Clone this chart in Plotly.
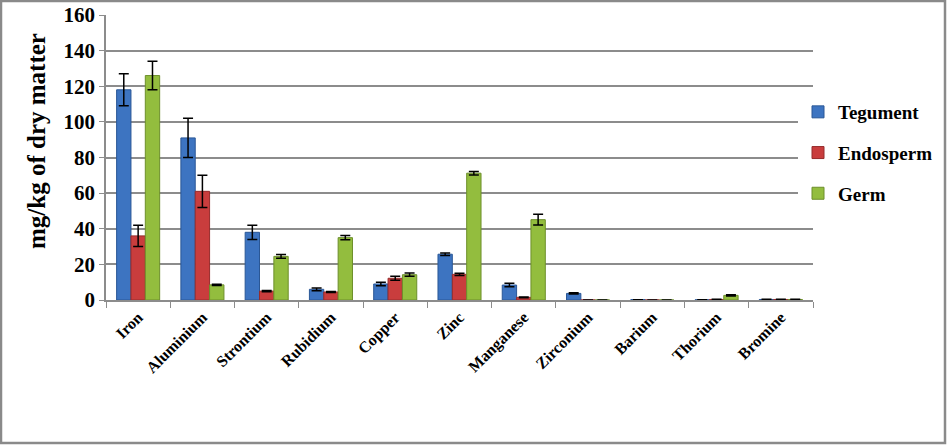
import plotly.graph_objects as go

elements = ["Iron", "Aluminium", "Strontium", "Rubidium", "Copper", "Zinc",
            "Manganese", "Zirconium", "Barium", "Thorium", "Bromine"]

tegument = [118, 91, 38, 6, 9, 25.7, 8.4, 3.7, 0.2, 0.1, 0.3]
tegument_err = [9, 11, 4, 0.8, 1, 0.7, 1, 0.4, 0, 0, 0.1]

endosperm = [36, 61, 5, 4.5, 12.2, 14.4, 1.5, 0, 0, 0.3, 0.3]
endosperm_err = [6, 9, 0.3, 0.3, 1.1, 0.6, 0.2, 0, 0, 0.1, 0.1]

germ = [126, 8.5, 24.5, 35, 14.2, 71.2, 45.1, 0, 0, 2.6, 0.3]
germ_err = [8, 0.3, 1, 1.2, 0.9, 1, 3, 0, 0, 0.3, 0.1]

SERIES = [
    ("Tegument", tegument, tegument_err, "#3D74C1", "#2A5796"),
    ("Endosperm", endosperm, endosperm_err, "#C93D3D", "#962C2C"),
    ("Germ", germ, germ_err, "#93BD3E", "#6D8F2B"),
]

W, H = 947, 445
L, R, T, B = 106, 134, 15, 145
PW, PH = W - L - R, H - T - B

font = "Liberation Serif"


def px_to_paper_x(p):
    return (p - L) / PW


def px_to_paper_y(p):
    return (H - B - p) / PH


fig = go.Figure()
for name, vals, errs, col, edge in SERIES:
    fig.add_trace(go.Bar(
        x=elements, y=vals, name=name, legendgroup=name,
        marker=dict(color=col, line=dict(color=edge, width=1)),
        error_y=dict(type="data", array=errs, visible=True,
                     color="black", thickness=1.5, width=5),
    ))

fig.update_layout(
    width=W, height=H,
    margin=dict(l=L, r=R, t=T, b=B, autoexpand=False),
    paper_bgcolor="white", plot_bgcolor="white",
    barmode="group", bargap=0.33, bargroupgap=0,
    font=dict(family=font, color="black"),
    legend=dict(
        x=px_to_paper_x(798), y=px_to_paper_y(93), xanchor="left", yanchor="top",
        font=dict(family=font, size=19, color="black", weight="bold"),
        tracegroupgap=13, itemwidth=30,
    ),
    shapes=[dict(
        type="rect", xref="paper", yref="paper", layer="above",
        x0=px_to_paper_x(1), x1=px_to_paper_x(945),
        y0=px_to_paper_y(443), y1=px_to_paper_y(1),
        line=dict(color="#8A8A8A", width=2.5),
    )],
    annotations=[dict(
        text="<b>mg/kg of dry matter</b>", textangle=-90, showarrow=False,
        xref="paper", yref="paper",
        x=px_to_paper_x(36), y=px_to_paper_y(141),
        xanchor="center", yanchor="middle",
        font=dict(family=font, size=25, color="black"),
    )],
)

fig.update_yaxes(
    range=[0, 160], dtick=20, automargin=False,
    showgrid=True, gridcolor="#8C8C8C", gridwidth=1.5,
    showline=True, linecolor="#8C8C8C", linewidth=1.5,
    ticks="outside", ticklen=5, tickcolor="#8C8C8C",
    tickfont=dict(family=font, size=21, color="black", weight="bold"),
    zeroline=False,
)
fig.update_xaxes(
    automargin=False,
    showline=True, linecolor="#8C8C8C", linewidth=1.5,
    ticks="outside", ticklen=6, tickcolor="#8C8C8C", tickson="boundaries",
    tickangle=-45,
    tickfont=dict(family=font, size=16, color="black", weight="bold"),
)

# page body has a default margin; remove it so the chart fills the window
fig.write_html("out.html", config={"displayModeBar": False},
               post_script="document.body.style.margin='0';")
